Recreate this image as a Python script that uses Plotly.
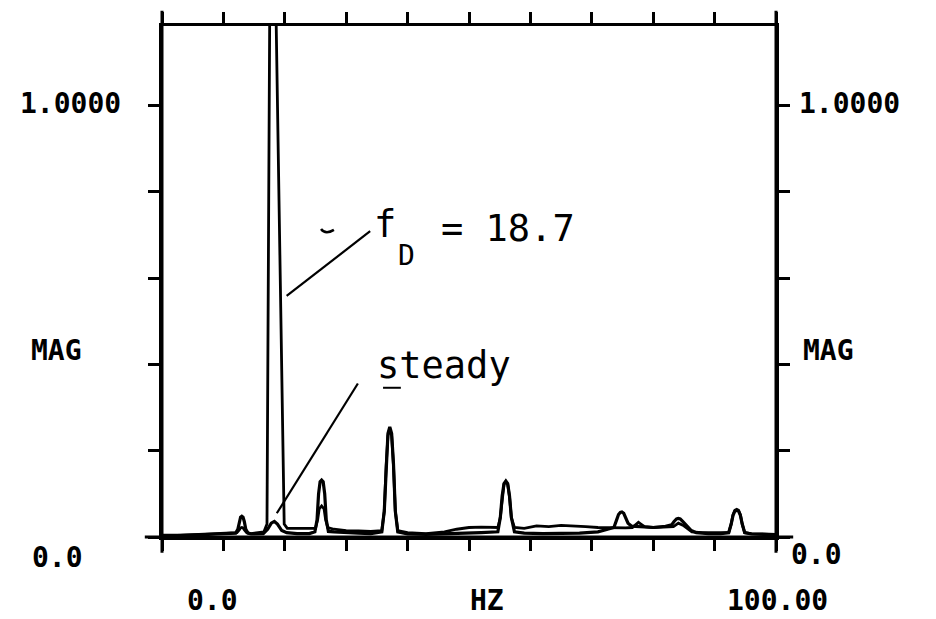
import plotly.graph_objects as go

# ---- data (Hz, normalized magnitude) ----
freq_dyn = [0, 3, 6, 9, 11.5,
            12.2, 12.55, 12.8, 13.0, 13.2, 13.45, 13.8,
            14.5, 16.6, 17.1, 17.8, 19.9, 20.4, 22, 24,
            25.0, 25.35, 25.6, 26.0, 26.4, 26.65, 27.0,
            28, 30, 32, 34,
            35.8, 36.2, 36.5, 36.8, 37.1, 37.4, 37.7, 38.0, 38.4,
            40, 43, 46, 48, 50, 52,
            54.7, 55.1, 55.4, 55.7, 56.0, 56.3, 56.6, 56.9, 57.4,
            59, 61, 63, 65, 67, 69, 71, 73, 74.5, 75.5,
            76.6, 77.2, 77.6, 78.0, 78.6,
            80, 82, 83.3, 84.1, 85.0, 86.3, 88, 90,
            92.3, 92.7, 93.0, 93.3, 93.6, 93.9, 94.2, 94.5, 94.9,
            96, 98, 100]
mag_dyn = [0.004, 0.004, 0.006, 0.008, 0.010,
           0.010, 0.016, 0.021, 0.022, 0.021, 0.016, 0.010,
           0.008, 0.012, 0.030, 1.900, 0.030, 0.020, 0.020, 0.020,
           0.020, 0.040, 0.065, 0.072, 0.065, 0.040, 0.022,
           0.018, 0.015, 0.014, 0.013,
           0.015, 0.060, 0.165, 0.235, 0.250, 0.235, 0.165, 0.060, 0.015,
           0.010, 0.008, 0.012, 0.018, 0.022, 0.023,
           0.022, 0.045, 0.093, 0.122, 0.128, 0.122, 0.093, 0.045, 0.022,
           0.020, 0.026, 0.024, 0.027, 0.026, 0.024, 0.022, 0.021, 0.020, 0.021,
           0.022, 0.030, 0.034, 0.030, 0.024,
           0.022, 0.024, 0.024, 0.032, 0.026, 0.012, 0.010, 0.010,
           0.010, 0.030, 0.052, 0.062, 0.064, 0.062, 0.052, 0.030, 0.010,
           0.008, 0.007, 0.006]

freq_std = [0, 3, 6, 9, 11.5,
            12.0, 12.35, 12.6, 12.8, 13.0, 13.2, 13.4, 13.65, 14.0,
            14.5, 16.5, 17.2, 17.8, 18.3, 18.8, 19.5, 20.3, 22, 24,
            24.9, 25.25, 25.5, 25.75, 26.0, 26.25, 26.5, 26.75, 27.1,
            28, 30, 32, 34,
            35.8, 36.2, 36.5, 36.8, 37.1, 37.4, 37.7, 38.0, 38.4,
            40, 43, 46, 48, 50, 52,
            54.7, 55.1, 55.4, 55.7, 56.0, 56.3, 56.6, 56.9, 57.4,
            59, 62, 65, 68, 71, 72.8,
            73.6, 74.0, 74.35, 74.65, 74.9, 75.2, 75.5, 75.9, 76.5,
            78, 80, 82,
            83.0, 83.4, 83.8, 84.1, 84.4, 84.8, 85.3, 86.2, 87,
            89, 91,
            92.3, 92.7, 93.0, 93.3, 93.6, 93.9, 94.2, 94.5, 94.9,
            96, 98, 100]
mag_std = [0.002, 0.003, 0.005, 0.007, 0.009,
           0.009, 0.018, 0.036, 0.046, 0.048, 0.046, 0.036, 0.018, 0.009,
           0.007, 0.008, 0.018, 0.032, 0.036, 0.030, 0.015, 0.010, 0.008, 0.008,
           0.012, 0.040, 0.100, 0.128, 0.132, 0.128, 0.100, 0.040, 0.013,
           0.012, 0.010, 0.009, 0.008,
           0.012, 0.060, 0.170, 0.240, 0.255, 0.240, 0.170, 0.060, 0.012,
           0.007, 0.006, 0.007, 0.008, 0.010, 0.010,
           0.012, 0.045, 0.095, 0.124, 0.130, 0.124, 0.095, 0.045, 0.012,
           0.009, 0.008, 0.008, 0.009, 0.012, 0.020,
           0.022, 0.038, 0.052, 0.057, 0.058, 0.055, 0.045, 0.032, 0.025,
           0.024, 0.022, 0.025,
           0.028, 0.036, 0.042, 0.043, 0.042, 0.036, 0.028, 0.015, 0.010,
           0.008, 0.008,
           0.010, 0.030, 0.050, 0.060, 0.062, 0.060, 0.050, 0.030, 0.010,
           0.007, 0.006, 0.005]

x_ticks = [0, 10, 20, 30, 40, 50, 60, 70, 80, 90, 100]
y_ticks = [0.0, 0.2, 0.4, 0.6, 0.8, 1.0]
x_range = [0, 100]
y_range = [0, 1.1848]

x_tick_labels = ["0.0", "HZ", "100.00"]
y_tick_labels = ["0.0", "1.0000"]
y_title = "MAG"
peak_label_f = "f"
peak_label_sub = "D"
peak_label_val = "= 18.7"
steady_label = "steady"

assert len(freq_dyn) == len(mag_dyn)
assert len(freq_std) == len(mag_std)

fig = go.Figure()
fig.add_trace(go.Scatter(x=freq_std, y=mag_std, mode="lines",
                         line=dict(color="black", width=3.2), showlegend=False, hoverinfo="skip"))
fig.add_trace(go.Scatter(x=freq_dyn, y=mag_dyn, mode="lines",
                         line=dict(color="black", width=2.8), showlegend=False, hoverinfo="skip"))

axis_common = dict(showgrid=False, zeroline=False, showline=True, linecolor="black", linewidth=3,
                   ticks="outside", ticklen=11, tickwidth=2.5, tickcolor="black",
                   showticklabels=False, mirror="ticks")

fig.update_layout(
    width=936, height=619,
    margin=dict(l=162, r=160, t=24, b=82),
    paper_bgcolor="white", plot_bgcolor="white",
    xaxis=dict(range=x_range, tickvals=x_ticks, **axis_common),
    yaxis=dict(range=y_range, tickvals=y_ticks, **axis_common),
)

# axis-line extensions beyond the frame, leader lines and small marks
shapes = [
    dict(type="line", xref="paper", yref="paper", x0=0, x1=0, y0=-0.031, y1=1.03,
         line=dict(color="black", width=3)),
    dict(type="line", xref="paper", yref="paper", x0=1, x1=1, y0=-0.031, y1=1.03,
         line=dict(color="black", width=3)),
    dict(type="line", xref="paper", yref="paper", x0=-0.028, x1=1.028, y0=0, y1=0,
         line=dict(color="black", width=3)),
    dict(type="line", xref="x", yref="y", x0=20.3, y0=0.559, x1=33.9, y1=0.709,
         line=dict(color="black", width=2.2)),
    dict(type="line", xref="x", yref="y", x0=31.9, y0=0.356, x1=18.7, y1=0.055,
         line=dict(color="black", width=2.2)),
    dict(type="path", xref="x", yref="y", path="M 25.9 0.714 Q 26.6 0.700 28.0 0.712",
         line=dict(color="black", width=2.5)),
    dict(type="line", xref="x", yref="y", x0=36.0, y0=0.346, x1=38.9, y1=0.346,
         line=dict(color="black", width=2)),
]
fig.update_layout(shapes=shapes)

tick_font = dict(family="DejaVu Sans Mono", size=28, color="black", weight="bold")
label_font = dict(family="DejaVu Sans Mono", size=37, color="black")

ann = []
ann.append(dict(text=y_tick_labels[1], xref="paper", yref="y", x=-0.1498, y=y_ticks[-1], yshift=2,
                showarrow=False, font=tick_font, xanchor="center", yanchor="middle"))
ann.append(dict(text=y_title, xref="paper", yref="paper", x=-0.1726, y=0.3645,
                showarrow=False, font=tick_font, xanchor="center", yanchor="middle"))
ann.append(dict(text=y_tick_labels[0], xref="paper", yref="y", x=-0.170, y=y_ticks[0], yshift=-20,
                showarrow=False, font=tick_font, xanchor="center", yanchor="middle"))
ann.append(dict(text=y_tick_labels[1], xref="paper", yref="y", x=1.1189, y=y_ticks[-1], yshift=2,
                showarrow=False, font=tick_font, xanchor="center", yanchor="middle"))
ann.append(dict(text=y_title, xref="paper", yref="paper", x=1.0847, y=0.3645,
                showarrow=False, font=tick_font, xanchor="center", yanchor="middle"))
ann.append(dict(text=y_tick_labels[0], xref="paper", yref="y", x=1.066, y=y_ticks[0], yshift=-17,
                showarrow=False, font=tick_font, xanchor="center", yanchor="middle"))
for txt, xp in zip(x_tick_labels, [0.083, 0.529, 1.003]):
    ann.append(dict(text=txt, xref="paper", yref="paper", x=xp, y=-0.1248,
                    showarrow=False, font=tick_font, xanchor="center", yanchor="middle"))
ann.append(dict(text=peak_label_f, xref="paper", yref="paper", x=0.342, y=0.612,
                showarrow=False, font=label_font, xanchor="left", yanchor="middle"))
ann.append(dict(text=peak_label_sub, xref="paper", yref="paper", x=0.381, y=0.55,
                showarrow=False, font=dict(family="DejaVu Sans Mono", size=28, color="black"),
                xanchor="left", yanchor="middle"))
ann.append(dict(text=peak_label_val, xref="paper", yref="paper", x=0.451, y=0.604,
                showarrow=False, font=label_font, xanchor="left", yanchor="middle"))
ann.append(dict(text=steady_label, xref="paper", yref="paper", x=0.347, y=0.335,
                showarrow=False, font=label_font, xanchor="left", yanchor="middle"))
fig.update_layout(annotations=ann)

fig.write_html("out.html")
